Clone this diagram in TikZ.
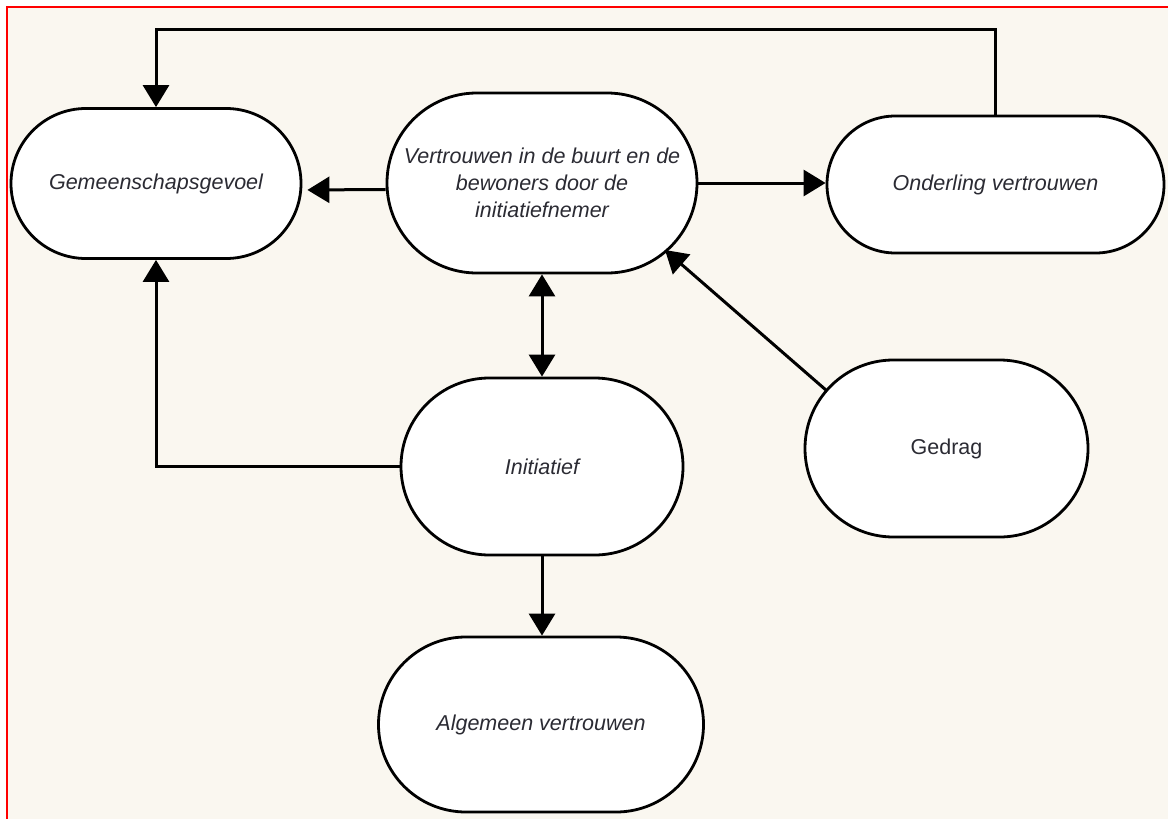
\documentclass[tikz,border=0pt]{standalone}
\usepackage{fontspec}
\setmainfont{Liberation Sans}
\usetikzlibrary{arrows.meta,calc}
\definecolor{cream}{HTML}{FAF7F0}
\definecolor{txt}{HTML}{2B2B33}
\begin{document}
\begin{tikzpicture}[x=1pt,y=-1pt,
  box/.style={draw=black, line width=2.8pt, fill=white, rectangle, inner sep=0pt,
    font=\fontsize{21.5}{27}\selectfont\itshape, text=txt, align=center},
  upright/.style={font=\fontsize{21.5}{27}\selectfont\upshape},
  arr/.style={line width=3pt, -{Triangle[length=22pt,width=26pt]}},
  dblarr/.style={line width=3pt, {Triangle[length=22pt,width=26pt]}-{Triangle[length=22pt,width=26pt]}},
]
\useasboundingbox (0,0) rectangle (1168,819);
\fill[white] (0,0) rectangle (1168,819);
\fill[cream] (8,8) rectangle (1168,819);
\draw[red, line width=2.5pt] (7,819) -- (7,7) -- (1168,7);

\node[box, minimum width=290pt, minimum height=150pt, rounded corners=74.9pt] (gem) at (156,183.5) {Gemeenschapsgevoel};
\node[box, minimum width=310pt, minimum height=180pt, rounded corners=89.9pt] (vert) at (542,183) {Vertrouwen in de buurt en de\\bewoners door de\\initiatiefnemer};
\node[box, minimum width=337pt, minimum height=137pt, rounded corners=68.4pt] (ond) at (995.5,184.5) {Onderling vertrouwen};
\node[box, minimum width=282pt, minimum height=177pt, rounded corners=88.4pt] (init) at (542,466.5) {Initiatief};
\node[box, upright, minimum width=283pt, minimum height=177pt, rounded corners=88.4pt] (ged) at (946.5,448.5) {Gedrag};
\node[box, minimum width=325pt, minimum height=175pt, rounded corners=87.4pt] (alg) at (541,724.5) {Algemeen vertrouwen};

% connectors
\draw[arr] (ond.north) -- ++(0,-85) -| (gem.north);
\draw[arr, shorten >=5pt] ($(vert.west)+(0,6.5)$) -- ($(gem.east)+(0,6.5)$);
\draw[arr] (vert.east) -- (vert.east -| ond.west);
\draw[dblarr] (vert.south) -- (init.north);
\draw[arr] (init.west) -| (gem.south);
\draw[arr] ($(ged.center)+(-120,-58)$) -- ($(vert.center)+(123,67)$);
\draw[arr] (init.south) -- (init.south |- alg.north);
\end{tikzpicture}
\end{document}
